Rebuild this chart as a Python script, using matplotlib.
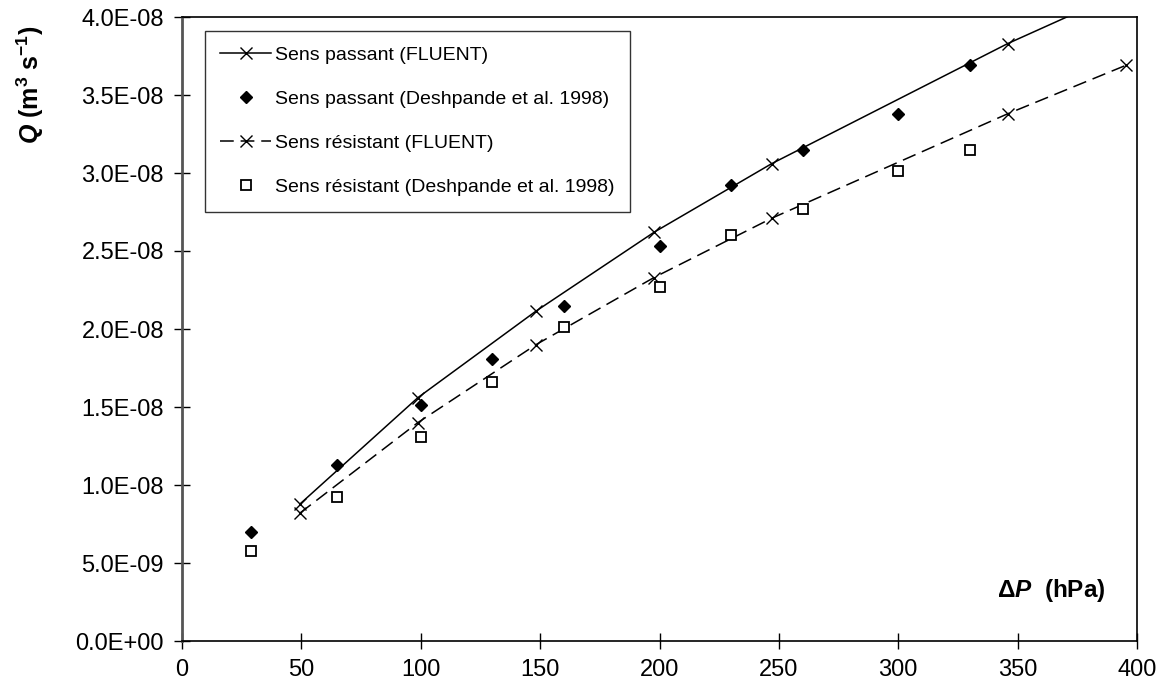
import matplotlib
matplotlib.use("Agg")
import matplotlib.pyplot as plt
from matplotlib.ticker import FuncFormatter, MultipleLocator

# FLUENT simulations (hPa, m3/s)
dp_fluent = [49.4, 98.8, 148.3, 197.7, 247.0, 345.9, 395.3]
q_passant_fluent = [0.878e-8, 1.56e-8, 2.115e-8, 2.62e-8, 3.06e-8, 3.83e-8, 4.17e-8]
q_resistant_fluent = [0.82e-8, 1.40e-8, 1.90e-8, 2.33e-8, 2.71e-8, 3.38e-8, 3.69e-8]

# Deshpande et al. 1998 measurements
dp_desh = [29, 65, 100, 130, 160, 200, 230, 260, 300, 330]
q_passant_desh = [0.70e-8, 1.13e-8, 1.51e-8, 1.81e-8, 2.15e-8, 2.53e-8,
                  2.92e-8, 3.15e-8, 3.38e-8, 3.69e-8]
q_resistant_desh = [0.58e-8, 0.92e-8, 1.31e-8, 1.66e-8, 2.01e-8, 2.27e-8,
                    2.60e-8, 2.77e-8, 3.01e-8, 3.15e-8]

plt.rcParams.update({
    "font.family": ["Liberation Sans", "DejaVu Sans"],
    "mathtext.fontset": "custom",
    "mathtext.rm": "Liberation Sans:bold",
    "mathtext.it": "Liberation Sans:italic:bold",
    "mathtext.bf": "Liberation Sans:bold",
})

fig = plt.figure(figsize=(11.68, 6.93), dpi=100)
ax = fig.add_axes([182 / 1168, 1 - 641 / 693, (1137 - 182) / 1168, (641 - 17) / 693])

ax.plot(dp_fluent, q_passant_fluent, color="black", linewidth=1.1,
        marker="x", markersize=8, markeredgewidth=1.0,
        label="Sens passant (FLUENT)")
ax.plot(dp_desh, q_passant_desh, linestyle="none", marker="D", markersize=6.5,
        color="black", label="Sens passant (Deshpande et al. 1998)")
ax.plot(dp_fluent, q_resistant_fluent, color="black", linewidth=1.1,
        dashes=(9, 4.5), marker="x", markersize=8, markeredgewidth=1.0,
        label="Sens résistant (FLUENT)")
ax.plot(dp_desh, q_resistant_desh, linestyle="none", marker="s", markersize=6.5,
        markerfacecolor="white", markeredgecolor="black", markeredgewidth=1.3,
        label="Sens résistant (Deshpande et al. 1998)")

ax.set_xlim(0, 400)
ax.set_ylim(0, 4.0e-8)
ax.xaxis.set_major_locator(MultipleLocator(50))
ax.yaxis.set_major_locator(MultipleLocator(0.5e-8))
ax.yaxis.set_major_formatter(FuncFormatter(lambda v, pos: f"{v:.1E}"))
ax.tick_params(direction="inout", length=12, width=1.0, labelsize=17, pad=7)

for side in ["top", "right", "bottom"]:
    ax.spines[side].set_linewidth(1.2)
    ax.spines[side].set_color("black")
ax.spines["left"].set_linewidth(2.0)
ax.spines["left"].set_color("#555555")

leg = ax.legend(loc="upper left", bbox_to_anchor=(0.024, 0.978), borderaxespad=0,
                fontsize=14, frameon=True, fancybox=False, framealpha=1,
                edgecolor="#333333", handlelength=2.6, handletextpad=0.2,
                labelspacing=1.36, borderpad=0.8)
leg.get_frame().set_linewidth(1.0)

fig.text(30 / 1168, 1 - 85 / 693, r"$Q$ (m$^{3}$ s$^{-1}$)", rotation=90,
         ha="center", va="center", fontsize=18, fontweight="bold")
fig.text(1051 / 1168, 1 - 591 / 693, "Δ$P$  (hPa)", ha="center", va="center",
         fontsize=17.5, fontweight="bold")

fig.savefig("out.png", dpi=100)
